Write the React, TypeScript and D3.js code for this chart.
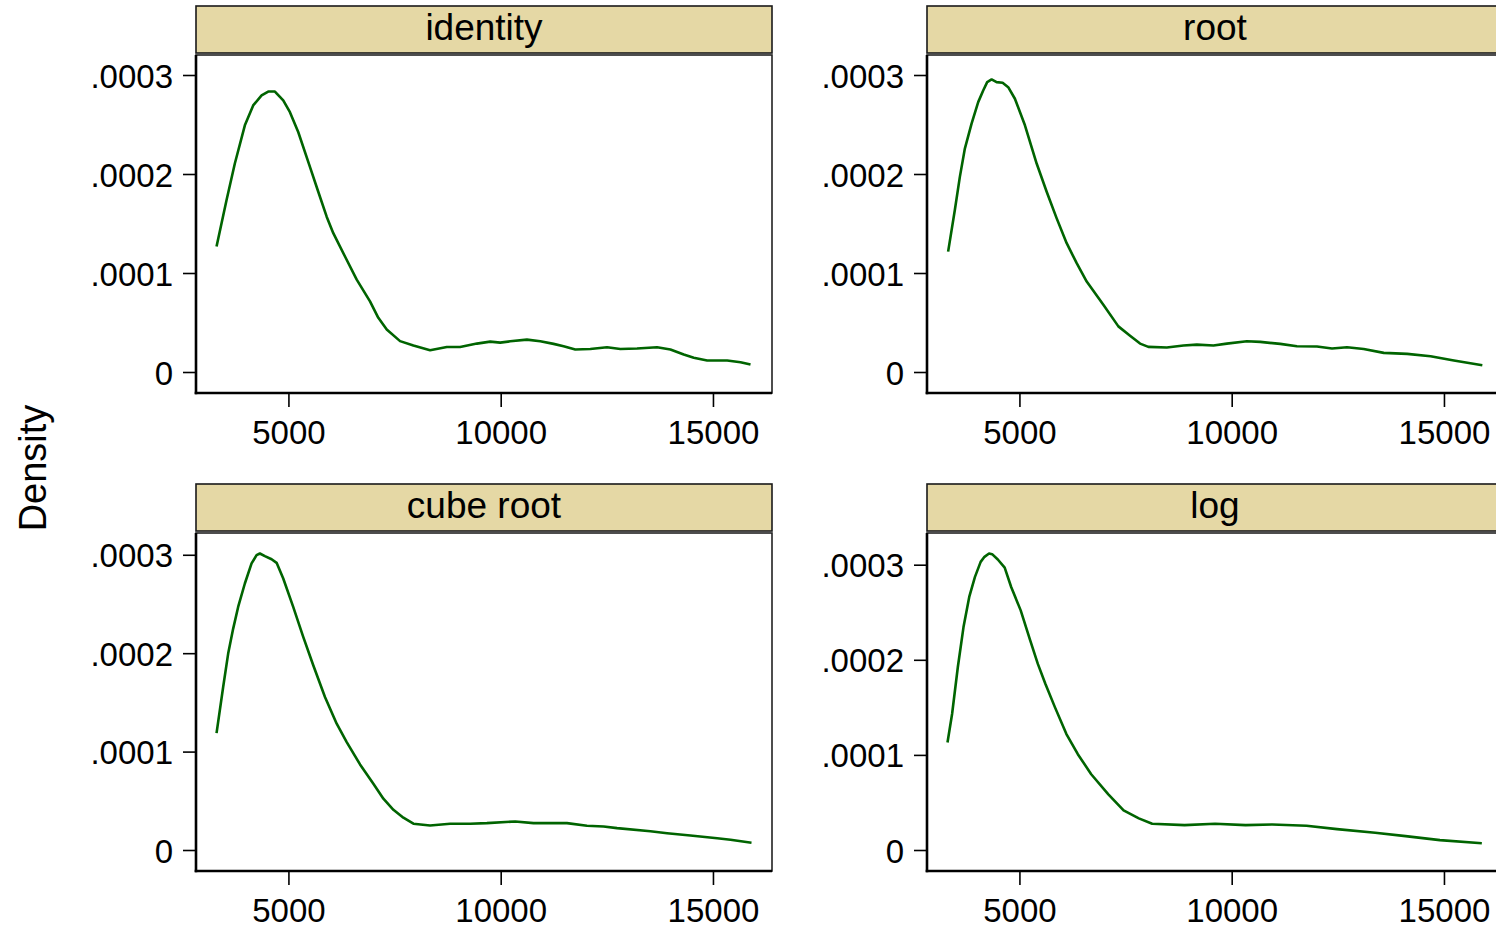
import React from "react";
import * as d3 from "d3";

// ---- data ----
const panelNames = ["identity", "root", "cube root", "log"];

const identityX = [3295,3531,3726,3962,4158,4356,4512,4670,4866,5024,5219,5495,5691,5889,6045,6321,6597,6910,7106,7304,7618,7932,8325,8719,9033,9427,9741,9976,10212,10606,10920,11234,11470,11745,12099,12493,12807,13200,13672,13986,14300,14536,14851,15323,15637,15873];
const identityY = [1.272e-4,1.742e-4,2.111e-4,2.497e-4,2.698e-4,2.799e-4,2.838e-4,2.838e-4,2.748e-4,2.630e-4,2.429e-4,2.077e-4,1.826e-4,1.574e-4,1.407e-4,1.172e-4,0.938e-4,0.719e-4,0.552e-4,0.434e-4,0.317e-4,0.272e-4,0.225e-4,0.258e-4,0.258e-4,0.292e-4,0.312e-4,0.302e-4,0.315e-4,0.332e-4,0.315e-4,0.289e-4,0.265e-4,0.232e-4,0.238e-4,0.255e-4,0.238e-4,0.242e-4,0.255e-4,0.232e-4,0.181e-4,0.148e-4,0.121e-4,0.121e-4,0.104e-4,0.081e-4];

const rootX = [3309,3467,3585,3703,3861,4017,4135,4229,4333,4450,4592,4724,4882,5118,5394,5630,5866,6101,6337,6573,6965,7319,7594,7830,8026,8460,8852,9167,9559,9874,10346,10660,11132,11525,11997,12351,12705,13098,13570,14122,14672,15222,15892];
const rootY = [1.221e-4,1.641e-4,1.976e-4,2.262e-4,2.514e-4,2.731e-4,2.849e-4,2.933e-4,2.960e-4,2.933e-4,2.926e-4,2.882e-4,2.765e-4,2.497e-4,2.111e-4,1.826e-4,1.557e-4,1.306e-4,1.104e-4,0.919e-4,0.685e-4,0.466e-4,0.372e-4,0.292e-4,0.259e-4,0.252e-4,0.272e-4,0.282e-4,0.272e-4,0.292e-4,0.315e-4,0.309e-4,0.289e-4,0.265e-4,0.262e-4,0.242e-4,0.255e-4,0.238e-4,0.198e-4,0.188e-4,0.164e-4,0.121e-4,0.074e-4];

const cubeX = [3295,3451,3569,3687,3804,3962,4120,4238,4316,4434,4592,4710,4866,5101,5337,5573,5849,6125,6361,6675,6989,7225,7461,7696,7932,8325,8797,9269,9663,10330,10762,11549,12021,12413,12729,13514,13908,14457,15087,15401,15896];
const cubeY = [1.193e-4,1.661e-4,2.001e-4,2.255e-4,2.475e-4,2.713e-4,2.917e-4,3.001e-4,3.018e-4,2.991e-4,2.960e-4,2.923e-4,2.764e-4,2.475e-4,2.170e-4,1.882e-4,1.560e-4,1.289e-4,1.102e-4,0.875e-4,0.679e-4,0.526e-4,0.414e-4,0.333e-4,0.272e-4,0.254e-4,0.272e-4,0.272e-4,0.278e-4,0.295e-4,0.278e-4,0.278e-4,0.251e-4,0.244e-4,0.227e-4,0.196e-4,0.176e-4,0.153e-4,0.125e-4,0.109e-4,0.078e-4];

const logX = [3294,3402,3537,3671,3806,3941,4075,4165,4273,4345,4479,4641,4794,5018,5242,5422,5601,5826,6095,6364,6679,7083,7442,7801,8115,8878,9596,10314,10943,11751,12469,13367,14085,14893,15880];
const logY = [1.136e-4,1.435e-4,1.927e-4,2.349e-4,2.666e-4,2.877e-4,3.035e-4,3.088e-4,3.123e-4,3.116e-4,3.060e-4,2.975e-4,2.771e-4,2.525e-4,2.209e-4,1.962e-4,1.751e-4,1.505e-4,1.224e-4,1.013e-4,0.802e-4,0.591e-4,0.422e-4,0.338e-4,0.281e-4,0.267e-4,0.281e-4,0.267e-4,0.274e-4,0.260e-4,0.225e-4,0.186e-4,0.151e-4,0.109e-4,0.077e-4];

const xTicks = [5000, 10000, 15000];
const yTicks = [0, 0.0001, 0.0002, 0.0003];
const yTickLabels = ["0", ".0001", ".0002", ".0003"];
const yTitle = "Density";

const seriesX = [identityX, rootX, cubeX, logX];
const seriesY = [identityY, rootY, cubeY, logY];

// ---- layout ----
const W = 1496;
const H = 930;
const colLeft = [196, 927];
const panelW = 576;
const stripTop = [6, 484];
const stripH = 47;
const plotGap = 2;
const plotH = 338;
const inner = 20.5;
const FONT = "'Liberation Sans', Arial, Helvetica, sans-serif";
const LINE = "#006400";
const STRIP = "#E5D8A5";

const allX = seriesX.flat();
const xExtent = d3.extent(allX) as [number, number];

function Panel({ idx }: { idx: number }) {
  const col = idx % 2;
  const row = Math.floor(idx / 2);
  const left = colLeft[col];
  const right = left + panelW;
  const sTop = stripTop[row];
  const top = sTop + stripH + plotGap;
  const bottom = top + plotH;

  const xs = seriesX[idx];
  const ys = seriesY[idx];
  const yMax = Math.max(0.0003, d3.max(ys) as number);

  const x = d3.scaleLinear().domain(xExtent).range([left + inner, right - inner]);
  const y = d3.scaleLinear().domain([0, yMax]).range([bottom - inner, top + inner]);

  const pts = xs.map((v, i) => [v, ys[i]] as [number, number]);
  const line = d3
    .line<[number, number]>()
    .x((d) => x(d[0]))
    .y((d) => y(d[1]))
    .curve(d3.curveLinear);

  return (
    <g>
      {/* strip */}
      <rect x={left} y={sTop} width={panelW} height={stripH} fill={STRIP} stroke="#1a1a1a" strokeWidth={1.6} />
      <text
        x={(left + right) / 2}
        y={sTop + 34}
        textAnchor="middle"
        fontFamily={FONT}
        fontSize={37}
        fill="#000"
      >
        {panelNames[idx]}
      </text>
      {/* plot region */}
      <rect x={left} y={top} width={panelW} height={plotH} fill="#fff" stroke="#222" strokeWidth={1.6} />
      <path d={line(pts) || ""} fill="none" stroke={LINE} strokeWidth={2.6} strokeLinejoin="round" />
      {/* axes */}
      <line x1={left} x2={left} y1={top} y2={bottom + 1.3} stroke="#000" strokeWidth={2.6} />
      <line x1={left - 1.3} x2={right} y1={bottom} y2={bottom} stroke="#000" strokeWidth={2.6} />
      {yTicks.map((t, i) => (
        <g key={"y" + i}>
          <line x1={left - 13} x2={left} y1={y(t)} y2={y(t)} stroke="#000" strokeWidth={1.6} />
          <text
            x={left - 23}
            y={y(t) + 12}
            textAnchor="end"
            fontFamily={FONT}
            fontSize={33}
            fill="#000"
          >
            {yTickLabels[i]}
          </text>
        </g>
      ))}
      {xTicks.map((t, i) => (
        <g key={"x" + i}>
          <line x1={x(t)} x2={x(t)} y1={bottom} y2={bottom + 14} stroke="#000" strokeWidth={1.6} />
          <text
            x={x(t)}
            y={bottom + 51}
            textAnchor="middle"
            fontFamily={FONT}
            fontSize={33}
            fill="#000"
          >
            {d3.format("d")(t)}
          </text>
        </g>
      ))}
    </g>
  );
}

export default function App() {
  return (
    <svg
      width={W}
      height={H}
      viewBox={`0 0 ${W} ${H}`}
      style={{ position: "absolute", left: 0, top: 0, background: "#fff" }}
    >
      <rect x={0} y={0} width={W} height={H} fill="#fff" />
      {panelNames.map((_, i) => (
        <Panel key={i} idx={i} />
      ))}
      <text
        transform={`translate(46, 468) rotate(-90)`}
        textAnchor="middle"
        fontFamily={FONT}
        fontSize={38}
        fill="#000"
      >
        {yTitle}
      </text>
    </svg>
  );
}
